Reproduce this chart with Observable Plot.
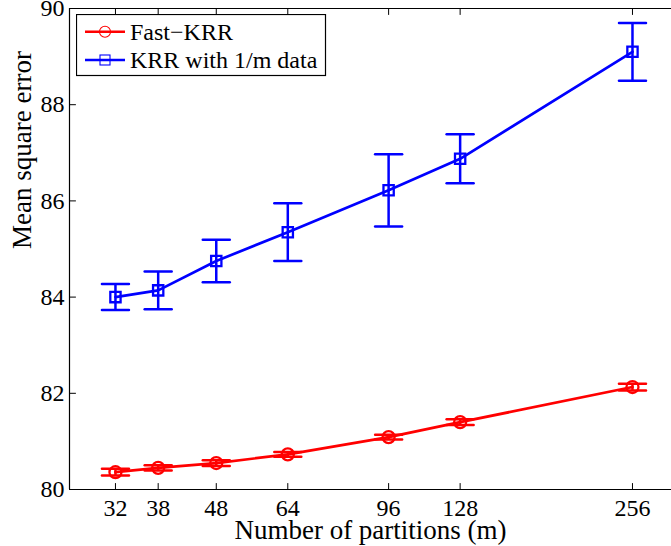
<!DOCTYPE html>
<html>
<head>
<meta charset="utf-8">
<script src="https://cdn.jsdelivr.net/npm/d3@7"></script>
<script src="https://cdn.jsdelivr.net/npm/@observablehq/plot@0.6"></script>
<style>
  html, body { margin: 0; padding: 0; background: #fff; }
  #wrap { position: relative; width: 671px; height: 546px; overflow: hidden; font-family: "Liberation Serif", "DejaVu Serif", serif; }
  #wrap svg text { font-family: "Liberation Serif", "DejaVu Serif", serif !important; }
  #legend { position: absolute; left: 76px; top: 14px; }
</style>
</head>
<body>
<div id="wrap"></div>
<script>
// ---- data ----
const partitions = [32, 38, 48, 64, 96, 128, 256];
const fastKRR = [80.36, 80.45, 80.55, 80.73, 81.09, 81.40, 82.13];
const fastKRRErr = [0.07, 0.055, 0.06, 0.05, 0.05, 0.06, 0.07];
const krrSub = [84.00, 84.14, 84.75, 85.35, 86.22, 86.875, 89.10];
const krrSubErr = [0.27, 0.39, 0.44, 0.60, 0.75, 0.51, 0.60];
const seriesNames = ["Fast\u2212KRR", "KRR with 1/m data"];
const seriesColors = ["#ff0000", "#0000ff"];
const xTicks = [32, 38, 48, 64, 96, 128, 256];
const yTicks = [80, 82, 84, 86, 88, 90];
const xDomain = [26.6, 299.5];
const yDomain = [80, 90];
const xLabel = "Number of partitions (m)";
const yLabel = "Mean square error";

const rows = [];
partitions.forEach((m, i) => {
  rows.push({m, v: fastKRR[i], e: fastKRRErr[i], s: seriesNames[0]});
});
partitions.forEach((m, i) => {
  rows.push({m, v: krrSub[i], e: krrSubErr[i], s: seriesNames[1]});
});
const red = rows.filter(d => d.s === seriesNames[0]);
const blue = rows.filter(d => d.s === seriesNames[1]);

const lineShape = {draw(ctx, l) { ctx.moveTo(0, 0); ctx.lineTo(0, -l); }};
const font = "Liberation Serif";

function series(data, color, symbol, r) {
  return [
    Plot.ruleX(data, {x: "m", y1: d => d.v - d.e, y2: d => d.v + d.e, stroke: color, strokeWidth: 2.5}),
    Plot.vector(data, {x: "m", y: d => d.v + d.e, length: 27, rotate: 90, anchor: "middle", shape: lineShape, stroke: color, strokeWidth: 2.5}),
    Plot.vector(data, {x: "m", y: d => d.v - d.e, length: 27, rotate: 90, anchor: "middle", shape: lineShape, stroke: color, strokeWidth: 2.5}),
    Plot.line(data, {x: "m", y: "v", stroke: color, strokeWidth: 2.7}),
    Plot.dot(data, {x: "m", y: "v", symbol, r, stroke: color, strokeWidth: 2.3, fill: "none"})
  ];
}

const chart = Plot.plot({
  width: 671,
  height: 546,
  marginLeft: 69,
  marginRight: 0,
  marginTop: 8,
  marginBottom: 57,
  style: {fontFamily: font, background: "#fff", color: "#000", overflow: "visible"},
  x: {type: "log", domain: xDomain},
  y: {domain: yDomain},
  marks: [
    Plot.ruleY(yDomain, {stroke: "#000", strokeWidth: 1.2}),
    Plot.ruleX([xDomain[0]], {stroke: "#000", strokeWidth: 1.2}),
    // inward ticks
    Plot.vector(xTicks, {x: d => d, y: () => yDomain[0], length: 6, rotate: 0, anchor: "start", shape: lineShape, stroke: "#000", strokeWidth: 1}),
    Plot.vector(xTicks, {x: d => d, y: () => yDomain[1], length: 6, rotate: 180, anchor: "start", shape: lineShape, stroke: "#000", strokeWidth: 1}),
    Plot.vector(yTicks, {x: () => xDomain[0], y: d => d, length: 6, rotate: 90, anchor: "start", shape: lineShape, stroke: "#000", strokeWidth: 1}),
    Plot.axisX(xTicks, {tickSize: 0, tickPadding: 9, fontSize: 24, label: null, tickFormat: d => String(d)}),
    Plot.axisY(yTicks, {tickSize: 0, tickPadding: 5, fontSize: 24, label: null, tickFormat: d => String(d)}),
    Plot.text([xLabel], {frameAnchor: "bottom", dy: 49, lineAnchor: "bottom", fontSize: 27, fill: "#000"}),
    Plot.text([yLabel], {frameAnchor: "left", dx: -39, rotate: -90, lineAnchor: "bottom", fontSize: 27, fill: "#000"}),
    ...series(blue, seriesColors[1], "square", 5.8),
    ...series(red, seriesColors[0], "circle", 6)
  ]
});

const wrap = document.getElementById("wrap");
wrap.appendChild(chart);

// legend
const ns = "http://www.w3.org/2000/svg";
const lg = document.createElementNS(ns, "svg");
lg.setAttribute("id", "legend");
lg.setAttribute("width", 251);
lg.setAttribute("height", 63);
lg.innerHTML = `
  <rect x="0.5" y="0.5" width="249" height="61" fill="#fff" stroke="#000" stroke-width="1.2"/>
  <line x1="9" x2="49" y1="17.7" y2="17.7" stroke="${seriesColors[0]}" stroke-width="2.6"/>
  <circle cx="29" cy="17.7" r="5.5" fill="none" stroke="${seriesColors[0]}" stroke-width="1.1"/>
  <text x="54" y="25.5" font-size="24">${seriesNames[0]}</text>
  <line x1="9" x2="49" y1="46" y2="46" stroke="${seriesColors[1]}" stroke-width="2.6"/>
  <rect x="24" y="41" width="10" height="10" fill="none" stroke="${seriesColors[1]}" stroke-width="1.1"/>
  <text x="54" y="54" font-size="24">${seriesNames[1]}</text>
`;
wrap.appendChild(lg);
</script>
</body>
</html>
